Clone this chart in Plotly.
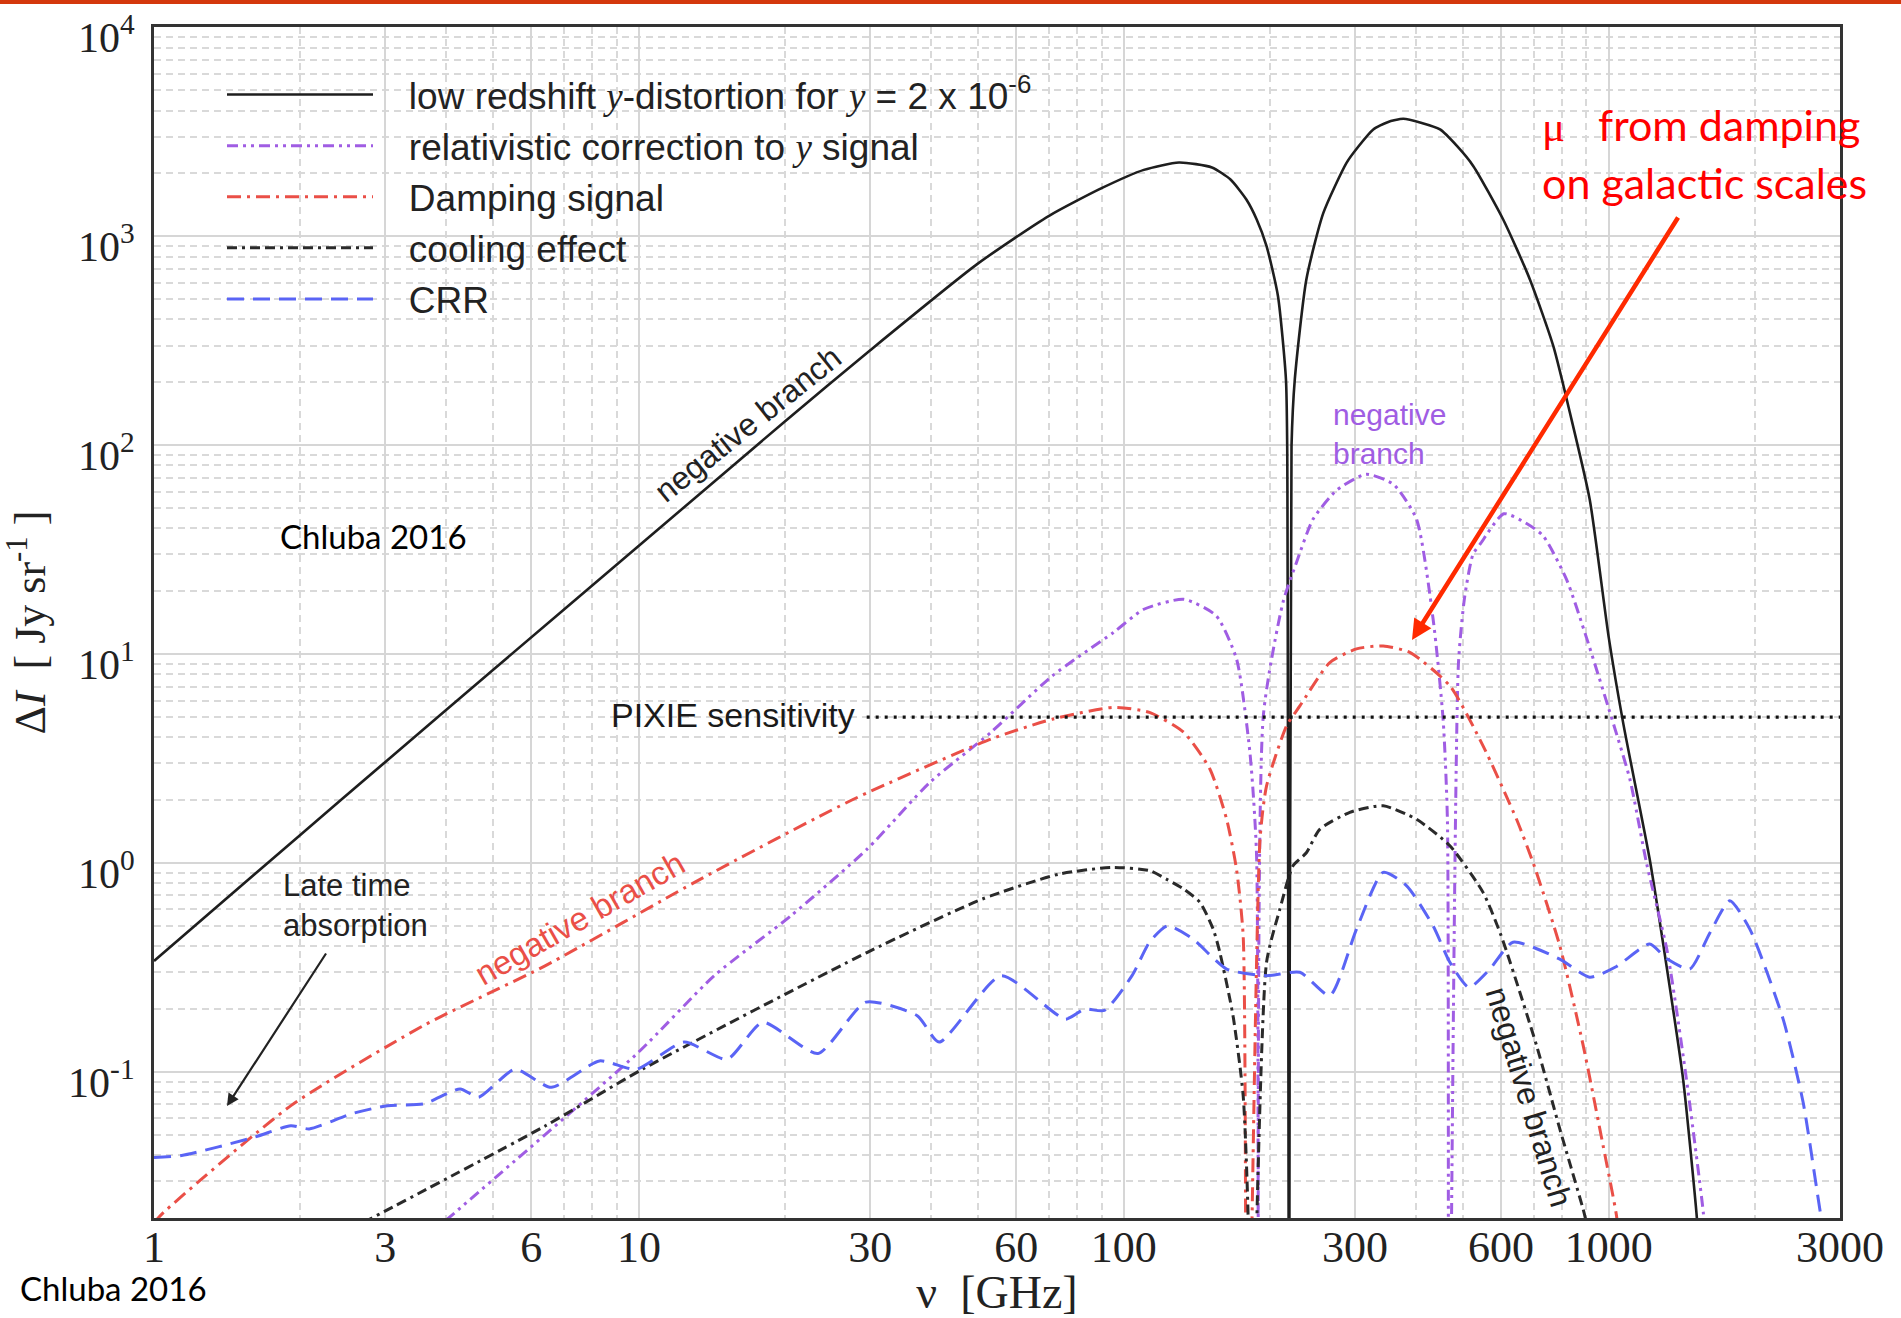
import math
import plotly.graph_objects as go

# ---------------- data (|ΔI| in Jy/sr vs ν in GHz) ----------------
ydist_nu = [1, 2, 3, 5, 10, 20, 30, 50, 70, 90, 110, 130, 152, 166, 179, 188, 197, 208, 216, 217.3,
            219.3, 221.8, 225.3, 238, 258, 288, 305, 327, 350, 377, 410, 449, 487, 526, 606, 688,
            769, 832, 914, 1000, 1073, 1215, 1316, 1424, 1517, 1545]
ydist_val = [0.34, 1.36, 3.05, 8.4, 33, 130, 285, 740, 1250, 1700, 2080, 2256, 2135, 1870, 1500, 1204,
             898, 517, 207, 99, 0.001, 99, 207, 622, 1295, 2249, 2700, 3248, 3520, 3652, 3500, 3248,
             2700, 2167, 1204, 622, 298, 143, 55, 12.1, 4.6, 1.045, 0.323, 0.0925, 0.0213, 0.012]

rel_nu = [4.0, 9.97, 14.3, 20.6, 29.6, 39.8, 53.2, 71.2, 95.2, 110, 133, 155, 170.8, 182, 187.8,
          189.5, 194, 213, 227, 245.6, 275, 316, 360, 401.6, 434.5, 455.6, 465, 468, 490, 505,
          525, 545, 608, 680, 733, 818.6, 900, 1000, 1106, 1197, 1320, 1440, 1567, 1600]
rel_val = [0.0195, 0.124, 0.289, 0.56, 1.17, 2.43, 4.22, 7.87, 12.7, 16.4, 18.3, 15.3, 9.5, 3.4, 1.12,
           0.001, 5.07, 17.7, 27.4, 44.2, 61, 72.6, 65, 44.2, 14.7, 4.88, 1.62, 0.001, 9, 19,
           30, 34, 47, 42, 36.8, 22.8, 12, 5.5, 2.52, 1.0, 0.38, 0.1, 0.0214, 0.012]

damp_nu = [1.0, 1.047, 1.916, 3.6, 6.42, 13.4, 27.7, 53.2, 71.2, 95.2, 113, 133, 150.5, 163, 170.8,
           176.3, 179.5, 191, 197, 216.7, 230.8, 266, 302, 342.8, 389, 470.5, 550.8, 645.7, 699,
           793, 886, 974, 1038, 1055]
damp_val = [0.019, 0.0213, 0.069, 0.167, 0.323, 0.838, 2.02, 3.92, 4.88, 5.56, 5.26, 4.22, 2.82, 1.62,
            0.935, 0.449, 0.001, 1.30, 2.34, 4.54, 5.65, 9.12, 10.6, 10.95, 10.2, 7.05, 3.64, 1.62,
            1.0, 0.402, 0.134, 0.0444, 0.0205, 0.014]

cool_nu = [2.7, 6.42, 10.2, 29.6, 51.1, 73.5, 94.8, 113, 122.4, 133, 143.6, 152.9, 157.8, 168, 176.3,
           180.5, 182, 197, 209.8, 223.4, 238, 253.6, 292.6, 342.8, 401.6, 470.5, 550.8, 600, 710,
           793, 886, 905]
cool_val = [0.019, 0.0553, 0.1035, 0.374, 0.673, 0.885, 0.953, 0.92, 0.838, 0.75, 0.649, 0.483, 0.374,
            0.186, 0.077, 0.0202, 0.001, 0.335, 0.6, 0.97, 1.12, 1.45, 1.75, 1.88, 1.62, 1.21, 0.724,
            0.45, 0.134, 0.0534, 0.022, 0.018]

crr_nu = [1.0, 1.14, 1.61, 1.915, 2.09, 2.55, 3.03, 3.6, 4.28, 4.67, 5.55, 6.6, 8.29, 9.87, 12.4,
          15.2, 18.0, 23.4, 29.4, 37.5, 41.6, 55.9, 75.8, 83, 91.2, 104, 113, 123, 138.4, 163, 197,
          230.8, 266, 302, 342.8, 382.8, 434.5, 470.5, 515, 569, 635, 793, 914, 1038, 1215, 1321,
          1470, 1617, 1778, 1955, 2290, 2518, 2726, 2780]
crr_val = [0.039, 0.0398, 0.0487, 0.0553, 0.0534, 0.063, 0.069, 0.0703, 0.083, 0.0757, 0.103, 0.0844,
           0.113, 0.103, 0.139, 0.115, 0.173, 0.1226, 0.216, 0.186, 0.139, 0.289, 0.179, 0.2, 0.197,
           0.289, 0.418, 0.5, 0.436, 0.311, 0.289, 0.3, 0.232, 0.483, 0.902, 0.78, 0.5, 0.335, 0.254,
           0.311, 0.418, 0.347, 0.284, 0.32, 0.41, 0.347, 0.311, 0.463, 0.66, 0.483, 0.179, 0.0716,
           0.022, 0.017]

pixie_nu = [29.5, 3000]
pixie_val = [5, 5]

x_tick_vals = [1, 3, 6, 10, 30, 60, 100, 300, 600, 1000, 3000]
x_tick_text = ["1", "3", "6", "10", "30", "60", "100", "300", "600", "1000", "3000"]
y_tick_vals = [0.1, 1, 10, 100, 1000, 10000]
y_tick_text = ["10<sup>-1</sup>", "10<sup>0</sup>", "10<sup>1</sup>", "10<sup>2</sup>",
               "10<sup>3</sup>", "10<sup>4</sup>"]

# ---------------- styling ----------------
SERIF = "Liberation Serif"
SANS = "Liberation Sans"
CAL = "Lato"
PURPLE = "#a05de3"
RED = "#ea4f47"
BLUE = "#5a64f5"

# plot area in pixels (for placing free text)
L, R, T, B = 154, 1840, 27, 1218
W, H = R - L, B - T


def px(x):
    return (x - L) / W


def py(y):
    return (B - y) / H


x_minor = [d * 10 ** k for k in range(0, 4) for d in range(2, 10)
           if d * 10 ** k < 3000 and d not in (3, 6)]
y_minor = [d * 10.0 ** k for k in range(-2, 4) for d in range(2, 10) if d * 10.0 ** k >= 0.02]

fig = go.Figure()

serif_y = '<span style="font-family:Liberation Serif"><i>y</i></span>'
gap = "\u00a0\u00a0\u00a0"

traces = [
    (ydist_nu, ydist_val, f"{gap}low redshift {serif_y}-distortion for {serif_y} = 2 x 10<sup>-6</sup>",
     dict(color="#1e1e1e", width=2.6, dash="solid")),
    (rel_nu, rel_val, f"{gap}relativistic correction to {serif_y} signal",
     dict(color=PURPLE, width=3, dash="11px,5px,3px,5px,3px,5px")),
    (damp_nu, damp_val, f"{gap}Damping signal",
     dict(color=RED, width=3, dash="14px,6px,3px,6px")),
    (cool_nu, cool_val, f"{gap}cooling effect",
     dict(color="#2a2a2a", width=3, dash="10px,5px,3px,5px,10px,5px")),
    (crr_nu, crr_val, f"{gap}CRR",
     dict(color=BLUE, width=3, dash="17px,9px")),
]
for xs, ys, name, line in traces:
    line = dict(line, shape="spline", smoothing=0.6)
    fig.add_trace(go.Scatter(x=xs, y=ys, mode="lines", name=name, line=line))

fig.add_trace(go.Scatter(x=pixie_nu, y=pixie_val, mode="lines", showlegend=False,
                         line=dict(color="#111111", width=3.2, dash="3px,6px")))

grid_major = "#d6d6d6"
grid_minor = "#d9d9d9"

fig.update_xaxes(
    type="log", range=[0, math.log10(3000)],
    tickmode="array", tickvals=x_tick_vals, ticktext=x_tick_text,
    showgrid=True, gridcolor=grid_major, gridwidth=2,
    minor=dict(tickmode="array", tickvals=x_minor, showgrid=True, gridcolor=grid_minor,
               griddash="7px,5px", gridwidth=1.5, ticks=""),
    showline=True, linecolor="#333333", linewidth=3, mirror=True, ticks="",
    zeroline=False,
    tickfont=dict(family=SERIF, size=44, color="#222222"),
    ticklabelstandoff=-12, ticklabeloverflow="allow",
    title=dict(text="ν  [GHz]", font=dict(family=SERIF, size=46, color="#222222"), standoff=4),
    automargin=False,
)
fig.update_yaxes(
    type="log", range=[math.log10(0.02), 4.002],
    tickmode="array", tickvals=y_tick_vals, ticktext=y_tick_text,
    showgrid=True, gridcolor=grid_major, gridwidth=2,
    minor=dict(tickmode="array", tickvals=y_minor, showgrid=True, gridcolor=grid_minor,
               griddash="7px,5px", gridwidth=1.5, ticks=""),
    showline=True, linecolor="#333333", linewidth=3, mirror=True, ticks="",
    zeroline=False,
    tickfont=dict(family=SERIF, size=42, color="#222222"),
    ticklabelstandoff=8, ticklabelshift=10, ticklabeloverflow="allow",
    title=dict(text="Δ<i>I</i>  [ Jy sr<sup>-1</sup> ]", font=dict(family=SERIF, size=44, color="#222222"),
               standoff=18),
    automargin=False,
)

annotations = []


def text(t, x, y, size, color="#1a1a1a", family=SANS, angle=0, xanchor="center"):
    annotations.append(dict(text=t, x=px(x), y=py(y), xref="paper", yref="paper",
                            showarrow=False, textangle=angle, xanchor=xanchor, yanchor="middle",
                            align="left", font=dict(family=family, size=size, color=color)))


text("Chluba 2016", 373, 536, 33, "#000000", CAL)
text("Chluba 2016", 113, 1288, 33, "#000000", CAL)
text("PIXIE sensitivity", 857, 715, 34, "#1a1a1a", SANS, xanchor="right")
text("negative branch", 748, 424, 32, "#222222", SANS, angle=-38.6)
text("negative branch", 579, 918, 33, RED, SANS, angle=-29.6)
text("negative branch", 1529, 1097, 32, "#222222", SANS, angle=73)
text("negative<br>branch", 1331, 434, 30, PURPLE, SANS, xanchor="left")
text("Late time<br>absorption", 281, 905, 31, "#222222", SANS, xanchor="left")
text('<span style="font-family:Liberation Serif">μ</span>\u00a0\u00a0\u00a0from damping',
     1540, 125, 43, "#ff0000", CAL, xanchor="left")
text("on galactic scales", 1540, 182, 43, "#ff0000", CAL, xanchor="left")

# arrows (head position, tail offset in pixels)
annotations.append(dict(text="", x=px(227), y=py(1106), xref="paper", yref="paper",
                        showarrow=True, ax=100, ay=-154, axref="pixel", ayref="pixel",
                        arrowhead=2, arrowsize=1.1, arrowwidth=2.2, arrowcolor="#222222",
                        standoff=0, startstandoff=0, font=dict(size=12)))
annotations.append(dict(text="", x=px(1412), y=py(640), xref="paper", yref="paper",
                        showarrow=True, ax=267, ay=-424, axref="pixel", ayref="pixel",
                        arrowhead=2, arrowsize=0.9, arrowwidth=4.5, arrowcolor="#ff2a00",
                        standoff=0, startstandoff=0, font=dict(size=12)))

fig.update_layout(
    width=1901, height=1318,
    margin=dict(l=L, r=1901 - R, t=T, b=1318 - B, autoexpand=False),
    paper_bgcolor="white", plot_bgcolor="white",
    annotations=annotations,
    legend=dict(x=px(222), y=py(64), xanchor="left", yanchor="top",
                bgcolor="rgba(0,0,0,0)", borderwidth=0, itemwidth=146,
                font=dict(family=SANS, size=37, color="#222222")),
    shapes=[dict(type="line", xref="paper", yref="paper", x0=px(0), x1=px(1901),
                 y0=py(2), y1=py(2), line=dict(color="#d4380d", width=4))],
)

fig.write_html("out.html")
